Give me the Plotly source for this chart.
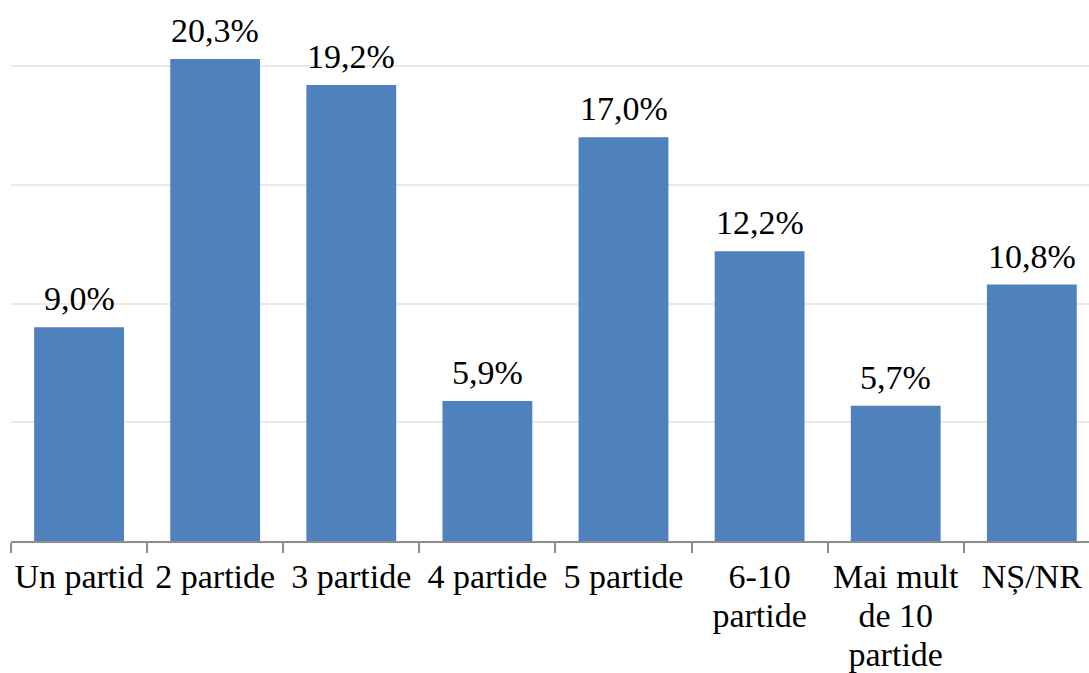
import plotly.graph_objects as go

categories = ["Un partid", "2 partide", "3 partide", "4 partide", "5 partide",
              "6-10<br>partide", "Mai mult<br>de 10<br>partide", "NȘ/NR"]
values = [9.0, 20.3, 19.2, 5.9, 17.0, 12.2, 5.7, 10.8]
labels = [f"{v:.1f}%".replace(".", ",") for v in values]

FONT = "Liberation Serif"
FS = 34
tick_text = ["<br>".join(f"<span style='font-size:{FS}px'>{ln}</span>" for ln in c.split("<br>"))
             for c in categories]

fig = go.Figure(go.Bar(
    x=categories, y=values,
    marker=dict(color="#4F81BD", line=dict(width=0)),
    width=0.66,
    cliponaxis=False,
    hoverinfo="skip",
))

for c, v, t in zip(categories, values, labels):
    fig.add_annotation(x=c, y=v, text=t, showarrow=False, yanchor="bottom",
                       yshift=8, font=dict(family=FONT, size=FS, color="#000000"))

fig.update_layout(
    width=1089, height=673,
    margin=dict(l=11, r=0, t=0, b=132, autoexpand=False),
    paper_bgcolor="white", plot_bgcolor="white",
    showlegend=False,
    font=dict(family=FONT, size=FS, color="#000000"),
    xaxis=dict(
        range=[-0.5, 7.42], automargin=False, tickangle=0,
        tickmode="array", tickvals=categories, ticktext=tick_text,
        showline=True, linecolor="#8c8c8c", linewidth=1.5,
        ticks="outside", tickson="boundaries", ticklen=10, tickcolor="#8c8c8c", tickwidth=1.5,
        tickfont=dict(family=FONT, size=30, color="#000000"),
        ticklabelstandoff=9,
        showgrid=False,
    ),
    yaxis=dict(
        range=[0, 22.78], automargin=False,
        tickvals=[5, 10, 15, 20],
        showticklabels=False,
        showgrid=True, gridcolor="#ecebe3", gridwidth=1.5,
        zeroline=False, showline=False,
    ),
)

fig.write_html("out.html", config={"displayModeBar": False},
               post_script="document.body.style.margin='0';")
